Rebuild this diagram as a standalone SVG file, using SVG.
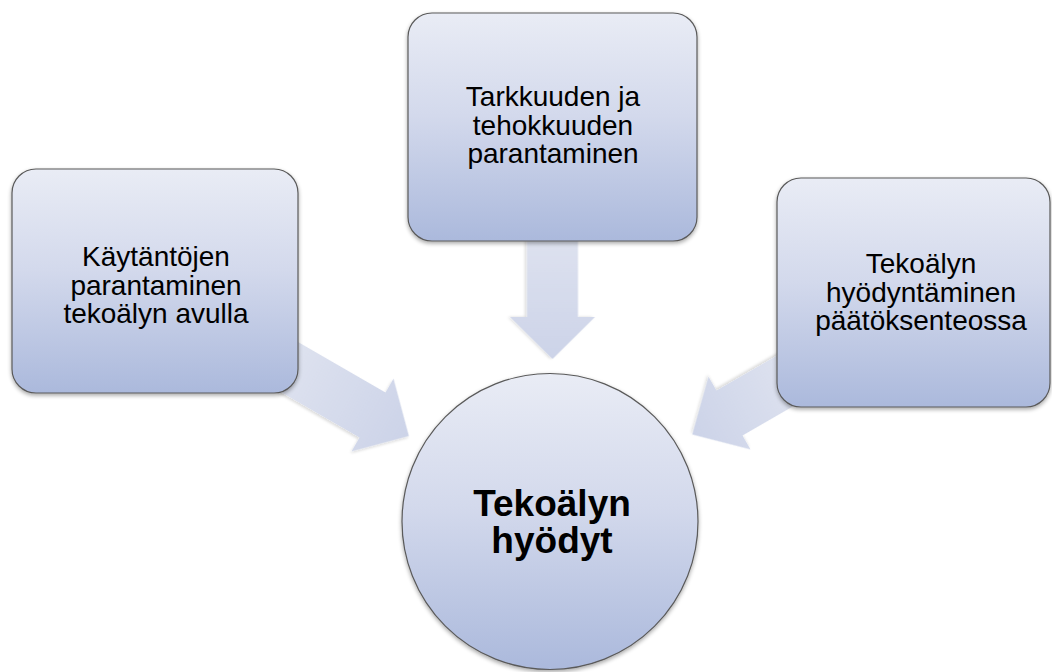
<svg xmlns="http://www.w3.org/2000/svg" width="1052" height="672" viewBox="0 0 1052 672">
  <defs>
    <linearGradient id="nodeFill" x1="0" y1="0" x2="0" y2="1">
      <stop offset="0" stop-color="#e9ecf5"/>
      <stop offset="0.45" stop-color="#d3d9ec"/>
      <stop offset="1" stop-color="#abb9dc"/>
    </linearGradient>
    <linearGradient id="arrowFill" x1="0" y1="0" x2="1" y2="0">
      <stop offset="0" stop-color="#e0e4f0"/>
      <stop offset="1" stop-color="#ccd3e8"/>
    </linearGradient>
    <filter id="shadow" x="-10%" y="-10%" width="120%" height="125%">
      <feGaussianBlur in="SourceAlpha" stdDeviation="2"/>
      <feOffset dx="0" dy="2" result="b"/>
      <feComponentTransfer><feFuncA type="linear" slope="0.35"/></feComponentTransfer>
      <feMerge><feMergeNode/><feMergeNode in="SourceGraphic"/></feMerge>
    </filter>
    <filter id="softShadow" x="-10%" y="-20%" width="120%" height="140%">
      <feGaussianBlur in="SourceAlpha" stdDeviation="1.5"/>
      <feOffset dx="0" dy="1.5" result="b"/>
      <feComponentTransfer><feFuncA type="linear" slope="0.15"/></feComponentTransfer>
      <feMerge><feMergeNode/><feMergeNode in="SourceGraphic"/></feMerge>
    </filter>
  </defs>
  <style>
    .node { fill: url(#nodeFill); stroke: #5a5a5a; stroke-width: 1.2; filter: url(#shadow); }
    .arrow { fill: url(#arrowFill); stroke: none; filter: url(#softShadow); }
    .label { font-family: "Liberation Sans", Arial, sans-serif; font-size: 28px; fill: #000; text-anchor: middle; }
    .hub { font-family: "Liberation Sans", Arial, sans-serif; font-size: 37px; font-weight: bold; fill: #000; text-anchor: middle; }
  </style>
  <rect width="1052" height="672" fill="#ffffff"/>

  <!-- block arrows pointing at the hub -->
  <g id="connectors">
    <path class="arrow" transform="translate(285,364.5) rotate(30)" d="M-20,-26 L101,-26 L101,-42 L143,0 L101,42 L101,26 L-20,26 Z"/>
    <path class="arrow" transform="translate(552.5,241) rotate(90)" d="M-20,-25.5 L76,-25.5 L76,-42.5 L118,0 L76,42.5 L76,25.5 L-20,25.5 Z"/>
    <path class="arrow" transform="translate(791,377.5) rotate(150)" d="M-20,-26 L71,-26 L71,-42 L114,0 L71,42 L71,26 L-20,26 Z"/>
  </g>

  <g id="node-left">
    <rect class="node" x="12" y="169" width="286" height="224" rx="24"/>
    <text class="label" x="156" y="266">Käytäntöjen</text>
    <text class="label" x="156" y="294.5">parantaminen</text>
    <text class="label" x="156" y="323">tekoälyn avulla</text>
  </g>

  <g id="node-top">
    <rect class="node" x="408" y="13" width="289" height="228" rx="24"/>
    <text class="label" x="553" y="106">Tarkkuuden ja</text>
    <text class="label" x="553" y="134.5">tehokkuuden</text>
    <text class="label" x="553" y="163">parantaminen</text>
  </g>

  <g id="node-right">
    <rect class="node" x="777" y="178" width="273" height="229" rx="24"/>
    <text class="label" x="921" y="273">Tekoälyn</text>
    <text class="label" x="921" y="301.5">hyödyntäminen</text>
    <text class="label" x="921" y="330">päätöksenteossa</text>
  </g>

  <g id="node-hub">
    <circle class="node" cx="550" cy="521.5" r="148"/>
    <text class="hub" x="552" y="516">Tekoälyn</text>
    <text class="hub" x="552" y="553">hyödyt</text>
  </g>
</svg>
